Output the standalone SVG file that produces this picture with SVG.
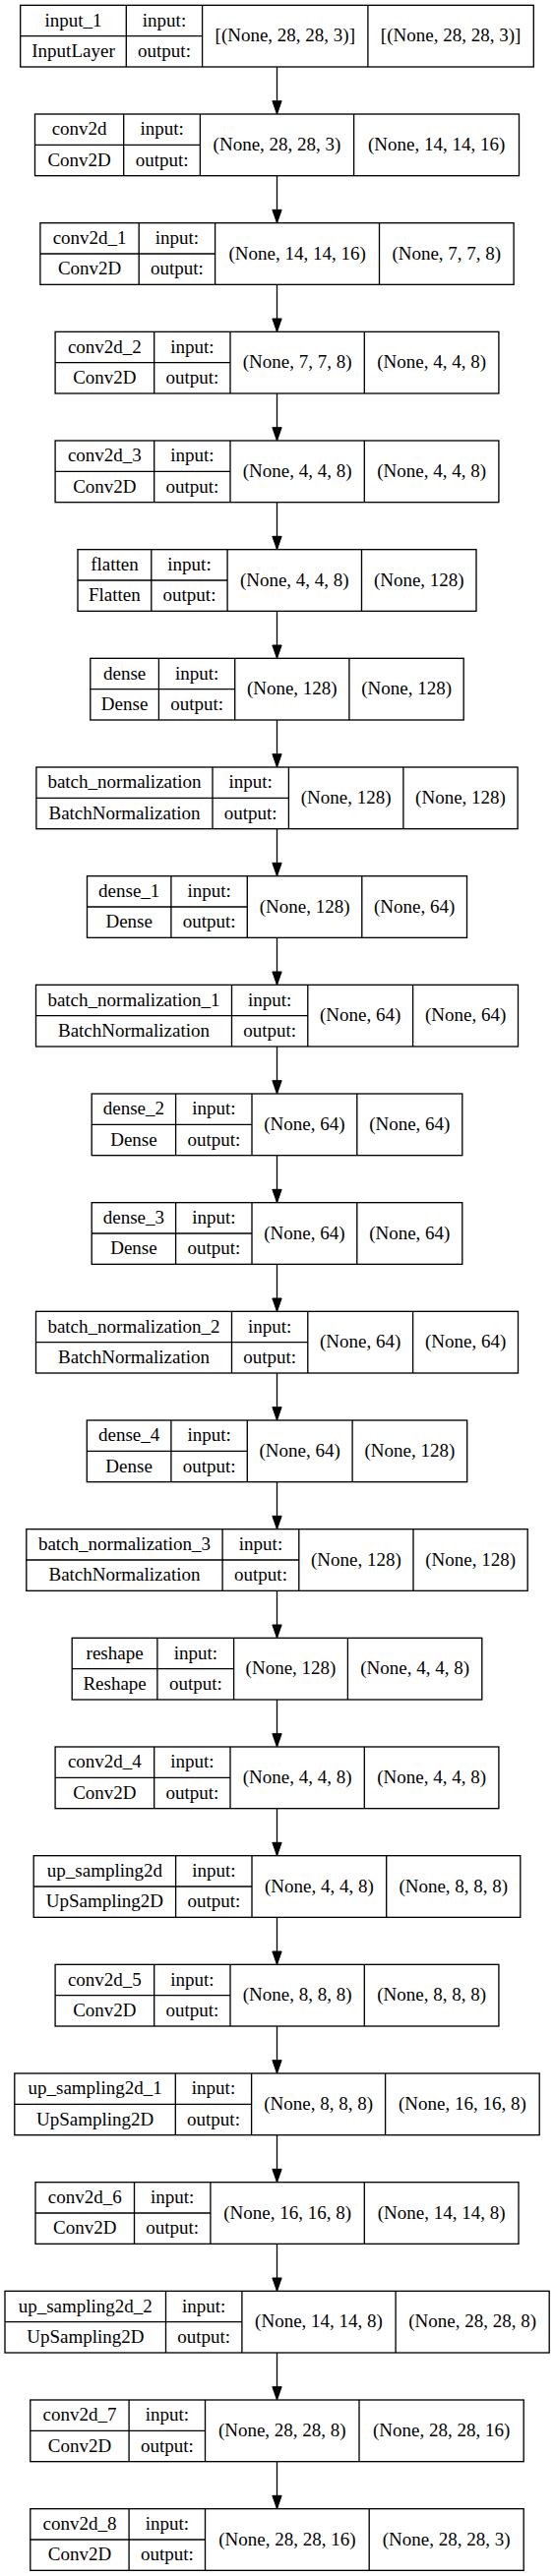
<svg xmlns="http://www.w3.org/2000/svg" width="563" height="2619" viewBox="0 0 563 2619">
<defs>
<style>
.bx{fill:#fff;stroke:#000;stroke-width:1.33}
.dv{fill:none;stroke:#000;stroke-width:1.33}
.ed{fill:none;stroke:#000;stroke-width:1.33}
text{font-family:"Liberation Serif","Times New Roman",serif;font-size:19px;text-anchor:middle;fill:#000}
</style>
<marker id="arr" markerUnits="userSpaceOnUse" viewBox="0 0 14 10" refX="13.33" refY="4.67" markerWidth="14" markerHeight="10" orient="auto" overflow="visible">
<path d="M0,0 L13.33,4.67 L0,9.33 Z" fill="#000" stroke="#000" stroke-width="1"/>
</marker>
</defs>
<rect width="563" height="2619" fill="#fff"/>
<g id="connectors">
<path class="ed" marker-end="url(#arr)" d="M281.5 68V116"/>
<path class="ed" marker-end="url(#arr)" d="M281.5 178.67V226.67"/>
<path class="ed" marker-end="url(#arr)" d="M281.5 289.33V337.33"/>
<path class="ed" marker-end="url(#arr)" d="M281.5 400V448"/>
<path class="ed" marker-end="url(#arr)" d="M281.5 510.67V558.67"/>
<path class="ed" marker-end="url(#arr)" d="M281.5 621.33V669.33"/>
<path class="ed" marker-end="url(#arr)" d="M281.5 732V780"/>
<path class="ed" marker-end="url(#arr)" d="M281.5 842.67V890.67"/>
<path class="ed" marker-end="url(#arr)" d="M281.5 953.33V1001.33"/>
<path class="ed" marker-end="url(#arr)" d="M281.5 1064V1112"/>
<path class="ed" marker-end="url(#arr)" d="M281.5 1174.67V1222.67"/>
<path class="ed" marker-end="url(#arr)" d="M281.5 1285.33V1333.33"/>
<path class="ed" marker-end="url(#arr)" d="M281.5 1396V1444"/>
<path class="ed" marker-end="url(#arr)" d="M281.5 1506.67V1554.67"/>
<path class="ed" marker-end="url(#arr)" d="M281.5 1617.33V1665.33"/>
<path class="ed" marker-end="url(#arr)" d="M281.5 1728V1776"/>
<path class="ed" marker-end="url(#arr)" d="M281.5 1838.67V1886.67"/>
<path class="ed" marker-end="url(#arr)" d="M281.5 1949.33V1997.33"/>
<path class="ed" marker-end="url(#arr)" d="M281.5 2060V2108"/>
<path class="ed" marker-end="url(#arr)" d="M281.5 2170.67V2218.67"/>
<path class="ed" marker-end="url(#arr)" d="M281.5 2281.33V2329.33"/>
<path class="ed" marker-end="url(#arr)" d="M281.5 2392V2440"/>
<path class="ed" marker-end="url(#arr)" d="M281.5 2502.67V2550.67"/>
</g>

<g id="input_1" transform="translate(0,5.33)">
<rect class="bx" x="20.7" y="0" width="521.6" height="62.67"/>
<path class="dv" d="M128.3 0V62.67M205.6 0V62.67M373.9 0V62.67M20.7 31.33H205.6"/>
<text x="74.5" y="21.3">input_1</text><text x="74.5" y="52.6">InputLayer</text>
<text x="167" y="21.3">input:</text><text x="167" y="52.6">output:</text>
<text x="289.8" y="36.9">[(None, 28, 28, 3)]</text><text x="458.1" y="36.9">[(None, 28, 28, 3)]</text>
</g>

<g id="conv2d" transform="translate(0,116)">
<rect class="bx" x="35.5" y="0" width="492" height="62.67"/>
<path class="dv" d="M125.7 0V62.67M203.4 0V62.67M359.6 0V62.67M35.5 31.33H203.4"/>
<text x="80.6" y="21.3">conv2d</text><text x="80.6" y="52.6">Conv2D</text>
<text x="164.6" y="21.3">input:</text><text x="164.6" y="52.6">output:</text>
<text x="281.5" y="36.9">(None, 28, 28, 3)</text><text x="443.6" y="36.9">(None, 14, 14, 16)</text>
</g>

<g id="conv2d_1" transform="translate(0,226.67)">
<rect class="bx" x="40.9" y="0" width="481.2" height="62.67"/>
<path class="dv" d="M141.2 0V62.67M218.6 0V62.67M385.5 0V62.67M40.9 31.33H218.6"/>
<text x="91.1" y="21.3">conv2d_1</text><text x="91.1" y="52.6">Conv2D</text>
<text x="179.9" y="21.3">input:</text><text x="179.9" y="52.6">output:</text>
<text x="302.1" y="36.9">(None, 14, 14, 16)</text><text x="453.8" y="36.9">(None, 7, 7, 8)</text>
</g>

<g id="conv2d_2" transform="translate(0,337.33)">
<rect class="bx" x="56.1" y="0" width="450.8" height="62.67"/>
<path class="dv" d="M156.7 0V62.67M234 0V62.67M370.3 0V62.67M56.1 31.33H234"/>
<text x="106.4" y="21.3">conv2d_2</text><text x="106.4" y="52.6">Conv2D</text>
<text x="195.4" y="21.3">input:</text><text x="195.4" y="52.6">output:</text>
<text x="302.2" y="36.9">(None, 7, 7, 8)</text><text x="438.6" y="36.9">(None, 4, 4, 8)</text>
</g>

<g id="conv2d_3" transform="translate(0,448)">
<rect class="bx" x="56.1" y="0" width="450.8" height="62.67"/>
<path class="dv" d="M156.7 0V62.67M234 0V62.67M370.3 0V62.67M56.1 31.33H234"/>
<text x="106.4" y="21.3">conv2d_3</text><text x="106.4" y="52.6">Conv2D</text>
<text x="195.4" y="21.3">input:</text><text x="195.4" y="52.6">output:</text>
<text x="302.2" y="36.9">(None, 4, 4, 8)</text><text x="438.6" y="36.9">(None, 4, 4, 8)</text>
</g>

<g id="flatten" transform="translate(0,558.67)">
<rect class="bx" x="79" y="0" width="405" height="62.67"/>
<path class="dv" d="M153.8 0V62.67M231.1 0V62.67M367.5 0V62.67M79 31.33H231.1"/>
<text x="116.4" y="21.3">flatten</text><text x="116.4" y="52.6">Flatten</text>
<text x="192.5" y="21.3">input:</text><text x="192.5" y="52.6">output:</text>
<text x="299.3" y="36.9">(None, 4, 4, 8)</text><text x="425.8" y="36.9">(None, 128)</text>
</g>

<g id="dense" transform="translate(0,669.33)">
<rect class="bx" x="91.8" y="0" width="379.4" height="62.67"/>
<path class="dv" d="M161.4 0V62.67M238.7 0V62.67M354.9 0V62.67M91.8 31.33H238.7"/>
<text x="126.6" y="21.3">dense</text><text x="126.6" y="52.6">Dense</text>
<text x="200.1" y="21.3">input:</text><text x="200.1" y="52.6">output:</text>
<text x="296.8" y="36.9">(None, 128)</text><text x="413.1" y="36.9">(None, 128)</text>
</g>

<g id="batch_normalization" transform="translate(0,780)">
<rect class="bx" x="36.9" y="0" width="489.2" height="62.67"/>
<path class="dv" d="M216 0V62.67M293.4 0V62.67M409.9 0V62.67M36.9 31.33H293.4"/>
<text x="126.5" y="21.3">batch_normalization</text><text x="126.5" y="52.6">BatchNormalization</text>
<text x="254.7" y="21.3">input:</text><text x="254.7" y="52.6">output:</text>
<text x="351.7" y="36.9">(None, 128)</text><text x="468" y="36.9">(None, 128)</text>
</g>

<g id="dense_1" transform="translate(0,890.67)">
<rect class="bx" x="88.5" y="0" width="386" height="62.67"/>
<path class="dv" d="M173.9 0V62.67M251.3 0V62.67M367.8 0V62.67M88.5 31.33H251.3"/>
<text x="131.2" y="21.3">dense_1</text><text x="131.2" y="52.6">Dense</text>
<text x="212.6" y="21.3">input:</text><text x="212.6" y="52.6">output:</text>
<text x="309.6" y="36.9">(None, 128)</text><text x="421.2" y="36.9">(None, 64)</text>
</g>

<g id="batch_normalization_1" transform="translate(0,1001.33)">
<rect class="bx" x="36.5" y="0" width="490" height="62.67"/>
<path class="dv" d="M235.5 0V62.67M312.8 0V62.67M419.6 0V62.67M36.5 31.33H312.8"/>
<text x="136" y="21.3">batch_normalization_1</text><text x="136" y="52.6">BatchNormalization</text>
<text x="274.2" y="21.3">input:</text><text x="274.2" y="52.6">output:</text>
<text x="366.2" y="36.9">(None, 64)</text><text x="473.1" y="36.9">(None, 64)</text>
</g>

<g id="dense_2" transform="translate(0,1112)">
<rect class="bx" x="93.2" y="0" width="376.6" height="62.67"/>
<path class="dv" d="M178.6 0V62.67M256 0V62.67M362.8 0V62.67M93.2 31.33H256"/>
<text x="135.9" y="21.3">dense_2</text><text x="135.9" y="52.6">Dense</text>
<text x="217.3" y="21.3">input:</text><text x="217.3" y="52.6">output:</text>
<text x="309.4" y="36.9">(None, 64)</text><text x="416.3" y="36.9">(None, 64)</text>
</g>

<g id="dense_3" transform="translate(0,1222.67)">
<rect class="bx" x="93.2" y="0" width="376.6" height="62.67"/>
<path class="dv" d="M178.6 0V62.67M256 0V62.67M362.8 0V62.67M93.2 31.33H256"/>
<text x="135.9" y="21.3">dense_3</text><text x="135.9" y="52.6">Dense</text>
<text x="217.3" y="21.3">input:</text><text x="217.3" y="52.6">output:</text>
<text x="309.4" y="36.9">(None, 64)</text><text x="416.3" y="36.9">(None, 64)</text>
</g>

<g id="batch_normalization_2" transform="translate(0,1333.33)">
<rect class="bx" x="36.5" y="0" width="490" height="62.67"/>
<path class="dv" d="M235.5 0V62.67M312.8 0V62.67M419.6 0V62.67M36.5 31.33H312.8"/>
<text x="136" y="21.3">batch_normalization_2</text><text x="136" y="52.6">BatchNormalization</text>
<text x="274.2" y="21.3">input:</text><text x="274.2" y="52.6">output:</text>
<text x="366.2" y="36.9">(None, 64)</text><text x="473.1" y="36.9">(None, 64)</text>
</g>

<g id="dense_4" transform="translate(0,1444)">
<rect class="bx" x="88.3" y="0" width="386.4" height="62.67"/>
<path class="dv" d="M173.9 0V62.67M251.3 0V62.67M358.1 0V62.67M88.3 31.33H251.3"/>
<text x="131.1" y="21.3">dense_4</text><text x="131.1" y="52.6">Dense</text>
<text x="212.6" y="21.3">input:</text><text x="212.6" y="52.6">output:</text>
<text x="304.7" y="36.9">(None, 64)</text><text x="416.4" y="36.9">(None, 128)</text>
</g>

<g id="batch_normalization_3" transform="translate(0,1554.67)">
<rect class="bx" x="26.8" y="0" width="509.4" height="62.67"/>
<path class="dv" d="M226.1 0V62.67M303.8 0V62.67M420 0V62.67M26.8 31.33H303.8"/>
<text x="126.5" y="21.3">batch_normalization_3</text><text x="126.5" y="52.6">BatchNormalization</text>
<text x="265" y="21.3">input:</text><text x="265" y="52.6">output:</text>
<text x="361.9" y="36.9">(None, 128)</text><text x="478.1" y="36.9">(None, 128)</text>
</g>

<g id="reshape" transform="translate(0,1665.33)">
<rect class="bx" x="73.2" y="0" width="416.6" height="62.67"/>
<path class="dv" d="M159.9 0V62.67M237.6 0V62.67M353.4 0V62.67M73.2 31.33H237.6"/>
<text x="116.6" y="21.3">reshape</text><text x="116.6" y="52.6">Reshape</text>
<text x="198.8" y="21.3">input:</text><text x="198.8" y="52.6">output:</text>
<text x="295.5" y="36.9">(None, 128)</text><text x="421.6" y="36.9">(None, 4, 4, 8)</text>
</g>

<g id="conv2d_4" transform="translate(0,1776)">
<rect class="bx" x="56.1" y="0" width="450.8" height="62.67"/>
<path class="dv" d="M156.7 0V62.67M234 0V62.67M370.3 0V62.67M56.1 31.33H234"/>
<text x="106.4" y="21.3">conv2d_4</text><text x="106.4" y="52.6">Conv2D</text>
<text x="195.4" y="21.3">input:</text><text x="195.4" y="52.6">output:</text>
<text x="302.2" y="36.9">(None, 4, 4, 8)</text><text x="438.6" y="36.9">(None, 4, 4, 8)</text>
</g>

<g id="up_sampling2d" transform="translate(0,1886.67)">
<rect class="bx" x="34.2" y="0" width="494.6" height="62.67"/>
<path class="dv" d="M178.6 0V62.67M256 0V62.67M392.7 0V62.67M34.2 31.33H256"/>
<text x="106.4" y="21.3">up_sampling2d</text><text x="106.4" y="52.6">UpSampling2D</text>
<text x="217.3" y="21.3">input:</text><text x="217.3" y="52.6">output:</text>
<text x="324.4" y="36.9">(None, 4, 4, 8)</text><text x="460.8" y="36.9">(None, 8, 8, 8)</text>
</g>

<g id="conv2d_5" transform="translate(0,1997.33)">
<rect class="bx" x="56.1" y="0" width="450.8" height="62.67"/>
<path class="dv" d="M156.7 0V62.67M234 0V62.67M370.3 0V62.67M56.1 31.33H234"/>
<text x="106.4" y="21.3">conv2d_5</text><text x="106.4" y="52.6">Conv2D</text>
<text x="195.4" y="21.3">input:</text><text x="195.4" y="52.6">output:</text>
<text x="302.2" y="36.9">(None, 8, 8, 8)</text><text x="438.6" y="36.9">(None, 8, 8, 8)</text>
</g>

<g id="up_sampling2d_1" transform="translate(0,2108)">
<rect class="bx" x="14.8" y="0" width="533.4" height="62.67"/>
<path class="dv" d="M178.3 0V62.67M255.6 0V62.67M391.6 0V62.67M14.8 31.33H255.6"/>
<text x="96.6" y="21.3">up_sampling2d_1</text><text x="96.6" y="52.6">UpSampling2D</text>
<text x="217" y="21.3">input:</text><text x="217" y="52.6">output:</text>
<text x="323.6" y="36.9">(None, 8, 8, 8)</text><text x="469.9" y="36.9">(None, 16, 16, 8)</text>
</g>

<g id="conv2d_6" transform="translate(0,2218.67)">
<rect class="bx" x="36" y="0" width="491" height="62.67"/>
<path class="dv" d="M136.5 0V62.67M213.9 0V62.67M370.3 0V62.67M36 31.33H213.9"/>
<text x="86.3" y="21.3">conv2d_6</text><text x="86.3" y="52.6">Conv2D</text>
<text x="175.2" y="21.3">input:</text><text x="175.2" y="52.6">output:</text>
<text x="292.1" y="36.9">(None, 16, 16, 8)</text><text x="448.7" y="36.9">(None, 14, 14, 8)</text>
</g>

<g id="up_sampling2d_2" transform="translate(0,2329.33)">
<rect class="bx" x="5" y="0" width="553.2" height="62.67"/>
<path class="dv" d="M168.5 0V62.67M245.9 0V62.67M402.1 0V62.67M5 31.33H245.9"/>
<text x="86.8" y="21.3">up_sampling2d_2</text><text x="86.8" y="52.6">UpSampling2D</text>
<text x="207.2" y="21.3">input:</text><text x="207.2" y="52.6">output:</text>
<text x="324" y="36.9">(None, 14, 14, 8)</text><text x="480.2" y="36.9">(None, 28, 28, 8)</text>
</g>

<g id="conv2d_7" transform="translate(0,2440)">
<rect class="bx" x="30.8" y="0" width="501.4" height="62.67"/>
<path class="dv" d="M131.1 0V62.67M208.5 0V62.67M365 0V62.67M30.8 31.33H208.5"/>
<text x="81" y="21.3">conv2d_7</text><text x="81" y="52.6">Conv2D</text>
<text x="169.8" y="21.3">input:</text><text x="169.8" y="52.6">output:</text>
<text x="286.8" y="36.9">(None, 28, 28, 8)</text><text x="448.6" y="36.9">(None, 28, 28, 16)</text>
</g>

<g id="conv2d_8" transform="translate(0,2550.67)">
<rect class="bx" x="30.8" y="0" width="501.4" height="62.67"/>
<path class="dv" d="M131.1 0V62.67M208.5 0V62.67M375.2 0V62.67M30.8 31.33H208.5"/>
<text x="81" y="21.3">conv2d_8</text><text x="81" y="52.6">Conv2D</text>
<text x="169.8" y="21.3">input:</text><text x="169.8" y="52.6">output:</text>
<text x="291.9" y="36.9">(None, 28, 28, 16)</text><text x="453.7" y="36.9">(None, 28, 28, 3)</text>
</g>
</svg>
